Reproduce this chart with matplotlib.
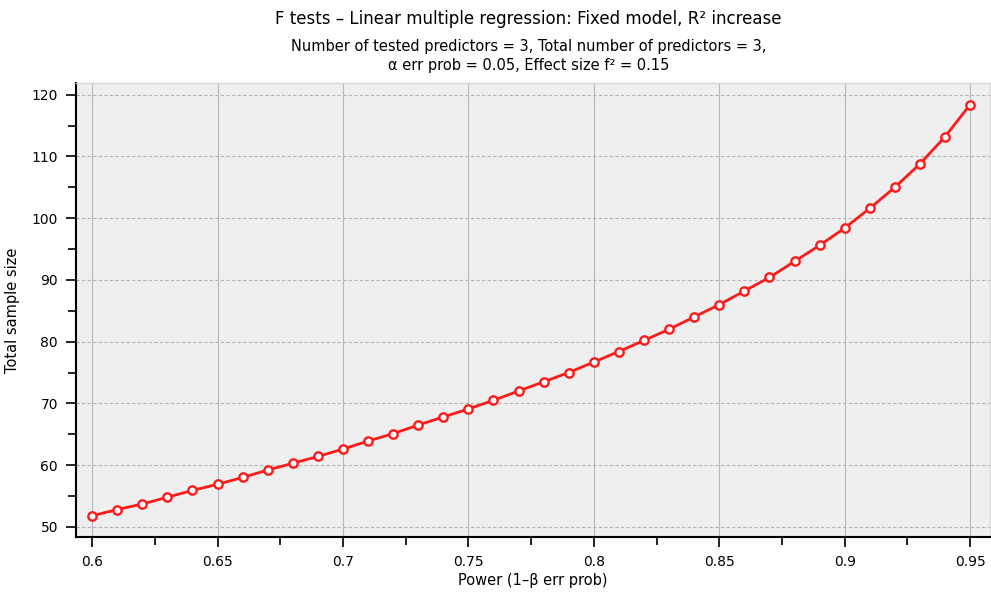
import numpy as np
import matplotlib
matplotlib.use("Agg")
import matplotlib.pyplot as plt
from matplotlib.ticker import MultipleLocator, FixedLocator

# values
power = [0.60, 0.61, 0.62, 0.63, 0.64, 0.65, 0.66, 0.67, 0.68, 0.69,
         0.70, 0.71, 0.72, 0.73, 0.74, 0.75, 0.76, 0.77, 0.78, 0.79,
         0.80, 0.81, 0.82, 0.83, 0.84, 0.85, 0.86, 0.87, 0.88, 0.89,
         0.90, 0.91, 0.92, 0.93, 0.94, 0.95]
sample_size = [51.8, 52.8, 53.7, 54.8, 55.9, 56.9, 58.0, 59.2, 60.3, 61.4,
               62.6, 63.9, 65.1, 66.5, 67.8, 69.1, 70.5, 72.0, 73.5, 75.0,
               76.7, 78.4, 80.2, 82.0, 84.0, 86.0, 88.2, 90.4, 93.0, 95.6,
               98.4, 101.6, 105.0, 108.8, 113.2, 118.4]
x_ticks = [0.6, 0.65, 0.7, 0.75, 0.8, 0.85, 0.9, 0.95]
x_tick_labels = ["0.6", "0.65", "0.7", "0.75", "0.8", "0.85", "0.9", "0.95"]
y_ticks = [50, 60, 70, 80, 90, 100, 110, 120]

title = "F tests \u2013 Linear multiple regression: Fixed model, R\u00b2 increase"
subtitle = ("Number of tested predictors = 3, Total number of predictors = 3,\n"
            "\u03b1 err prob = 0.05, Effect size f\u00b2 = 0.15")

plt.rcParams['font.family'] = ['DejaVu Sans']

fig = plt.figure(figsize=(9.91, 5.99), dpi=100)
ax = fig.add_axes([0.0767, 0.1035, 0.922, 0.758])
ax.set_facecolor("#efefef")

ax.plot(power, sample_size, color="#ff1a1a", lw=2, marker="o", ms=6,
        mfc="white", mec="#ff1a1a", mew=1.7, zorder=3)

ax.set_xlim(0.5936, 0.9578)
ax.set_ylim(48.36, 121.9)

ax.xaxis.set_major_locator(FixedLocator(x_ticks))
ax.set_xticklabels(x_tick_labels)
ax.xaxis.set_minor_locator(MultipleLocator(0.025))
ax.yaxis.set_major_locator(FixedLocator(y_ticks))
ax.yaxis.set_minor_locator(MultipleLocator(5))

ax.tick_params(which="major", direction="out", length=7, width=1.2,
               labelsize=10, colors="black", pad=6)
ax.tick_params(which="minor", direction="out", length=6, width=1.2)

ax.grid(True, which="major", axis="x", color="#b8b8b8", lw=0.8, linestyle="-")
ax.grid(True, which="major", axis="y", color="#b4b4b4", lw=0.8, linestyle=(0, (3, 2)))
ax.set_axisbelow(True)

for side in ["top", "right"]:
    ax.spines[side].set_color("#d8d8d8")
    ax.spines[side].set_linewidth(1)
for side in ["left", "bottom"]:
    ax.spines[side].set_linewidth(1.5)

ax.set_xlabel("Power (1\u2013\u03b2 err prob)", fontsize=10.5, labelpad=3)
ax.set_ylabel("Total sample size", fontsize=10.5, labelpad=8)

fig.text(0.533, 0.968, title, ha="center", va="center", fontsize=12)
fig.text(0.533, 0.907, subtitle, ha="center", va="center", fontsize=10.5,
         linespacing=1.35)

fig.savefig("out.png", dpi=100)
